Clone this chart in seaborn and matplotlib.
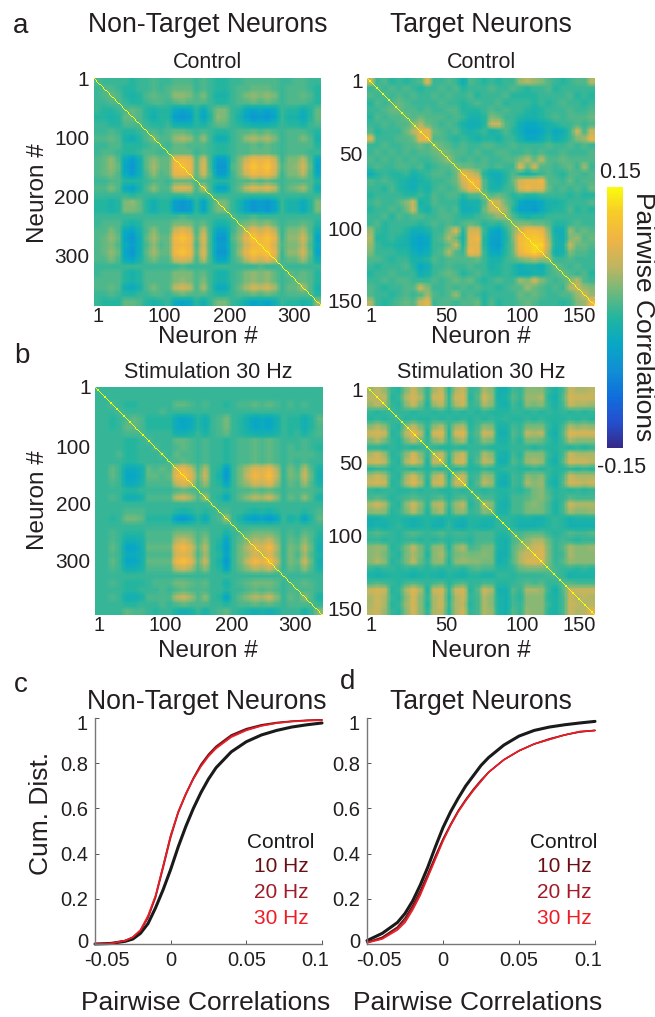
import numpy as np
import pandas as pd
import matplotlib
matplotlib.use("Agg")
import matplotlib.pyplot as plt
from matplotlib.colors import LinearSegmentedColormap
from matplotlib.transforms import ScaledTranslation
import seaborn as sns

# heatmap values, correlation x 100, estimated on a 32 x 32 grid (lower triangle, maps are symmetric)
nontarget_control = [
    [3], [2,3], [2,3,4], [2,2,3,3], [2,1,1,2,3], [1,1,0,1,4,4], [2,2,1,1,3,3,3], [2,2,3,2,1,1,2,3],
    [3,3,4,3,0,-1,1,3,5], [2,2,3,3,1,1,1,2,3,3], [2,3,3,2,1,1,2,3,3,2,3],
    [3,4,6,3,-2,-4,-1,4,6,4,4,11], [3,4,6,4,-3,-5,-1,4,7,4,4,12,13], [3,4,5,3,-2,-4,-1,3,6,3,4,11,12,11],
    [2,2,3,3,1,1,1,2,3,3,2,4,4,4,3], [3,3,5,3,-2,-3,0,3,6,3,3,9,10,9,3,8], [2,2,2,2,2,1,2,2,2,2,2,2,2,3,2,2,3],
    [1,1,0,1,5,6,4,1,-1,1,1,-4,-5,-4,1,-3,2,5], [1,1,0,1,5,5,4,1,-1,1,1,-4,-5,-4,1,-3,2,5,5],
    [2,2,2,2,2,2,2,2,2,2,2,2,3,2,2,2,2,2,2,3], [2,3,3,3,1,0,1,3,3,3,3,5,5,5,3,4,2,0,0,2,4],
    [3,3,5,3,-2,-3,0,3,6,3,3,9,11,9,3,8,2,-3,-3,2,5,8], [3,4,6,4,-3,-5,-1,4,7,4,4,12,14,12,4,10,2,-5,-5,3,6,11,14],
    [3,4,5,3,-2,-4,-1,3,6,3,4,11,12,11,3,9,2,-4,-4,2,5,9,12,13], [3,4,6,4,-3,-5,-1,4,7,4,4,12,14,12,4,10,2,-5,-5,2,6,11,14,13,14],
    [3,3,5,3,-2,-3,0,3,5,3,3,9,10,9,3,8,2,-3,-3,2,4,8,11,9,11,9], [2,2,2,2,2,2,2,2,2,2,2,2,3,2,2,2,2,2,2,2,2,2,2,3,2,2,3],
    [2,3,3,3,1,0,1,3,3,3,3,5,5,5,3,4,2,0,0,2,3,5,6,5,6,4,2,4], [3,3,3,3,1,0,1,3,3,3,3,5,6,5,3,5,2,0,0,2,3,5,6,5,6,4,2,3,4],
    [3,3,4,3,-1,-2,0,3,5,3,3,8,9,8,3,7,2,-2,-2,2,4,7,9,8,9,7,2,4,4,7],
    [2,2,3,2,1,1,2,2,3,3,2,3,4,3,3,3,2,1,1,2,3,3,4,3,4,3,2,3,3,3,3],
    [2,1,1,1,4,4,3,1,0,1,2,-2,-3,-2,1,-1,2,5,5,2,1,-1,-3,-2,-3,-1,2,1,1,0,1,6],
]
target_control = [
    [8], [2,3], [3,2,3], [1,3,2,3], [2,2,3,4,4], [1,3,2,3,3,4], [2,2,3,2,3,3,5], [3,1,2,2,2,4,7,10],
    [9,2,2,2,3,3,4,10,11], [2,2,3,2,2,3,3,4,3,5], [2,3,2,3,2,3,2,3,3,4,5], [3,2,3,2,3,2,3,2,2,3,4,6],
    [2,3,2,2,3,3,2,3,1,2,3,3,5], [-1,1,2,1,1,2,0,1,2,3,3,2,4,11], [3,2,3,2,1,0,-1,0,1,2,2,3,4,9,12],
    [2,2,1,3,1,0,-1,1,0,2,3,2,3,7,11,11], [1,2,2,2,2,1,1,2,1,3,2,3,3,1,3,3,5],
    [2,3,2,2,3,5,8,0,1,3,2,2,2,-1,0,0,3,9], [1,2,2,3,2,4,8,1,0,2,3,2,3,-1,-1,0,4,8,8],
    [2,2,3,1,3,2,3,3,2,2,3,3,2,1,1,2,3,4,6,6], [2,3,1,2,2,2,2,1,2,3,2,3,2,3,4,3,1,2,1,3,5],
    [6,2,1,2,2,1,-1,-1,0,2,2,5,9,1,9,9,2,-2,-3,1,5,9], [7,1,1,2,1,0,-2,-3,-2,2,3,7,4,0,10,11,1,-3,-3,0,5,12,13],
    [6,2,1,1,0,0,-2,-3,-2,2,2,4,8,1,10,10,1,-3,-4,1,4,12,14,15], [5,2,2,2,1,1,-1,-2,-1,2,3,7,3,2,11,10,2,-2,-2,1,4,11,13,15,13],
    [3,3,2,1,2,2,0,0,1,3,2,3,3,3,3,4,2,0,0,2,3,5,6,7,6,6], [2,1,2,2,2,3,1,-2,-1,2,2,3,2,2,3,2,2,0,1,2,1,-1,0,0,-1,2,4],
    [1,2,2,3,2,2,2,-1,0,2,3,4,3,1,2,3,2,1,1,2,1,-1,-1,0,0,2,3,4], [2,2,3,2,3,3,2,2,2,3,2,3,4,3,4,2,1,2,3,2,2,6,5,8,5,3,2,3,5],
    [3,2,1,2,2,3,3,8,5,2,2,3,2,3,2,3,2,2,1,2,3,3,6,4,3,2,3,2,7,8],
    [3,2,2,1,2,3,2,3,6,3,2,3,6,2,3,2,1,2,2,2,2,4,3,4,3,2,2,3,3,6,8],
    [7,2,1,2,3,4,3,8,10,2,3,3,2,3,3,4,1,3,1,2,2,3,4,3,2,2,2,1,2,5,6,11],
]
nontarget_stim = [
    [2], [2,2], [2,2,3], [2,2,2,3], [2,2,1,2,3], [2,2,1,2,4,4], [2,2,2,2,3,3,3], [2,2,2,2,1,1,2,3],
    [2,2,2,2,1,1,2,2,3], [2,2,2,3,1,1,2,2,2,3], [2,2,2,2,1,1,2,2,2,2,3],
    [2,2,4,2,-2,-2,-1,4,3,4,3,11], [2,2,4,2,-3,-3,-1,4,4,3,4,12,14], [2,2,3,2,-2,-2,0,3,3,3,3,9,11,9],
    [2,2,2,2,1,1,2,2,2,2,2,3,4,3,3], [2,2,3,2,-1,-1,0,3,3,3,3,8,9,7,3,7], [2,2,2,2,2,2,2,2,2,2,2,2,2,2,2,2,3],
    [2,2,2,2,3,3,3,2,2,2,2,1,0,1,2,1,2,3], [2,2,1,2,5,5,4,1,1,1,1,-4,-5,-3,1,-2,2,3,7],
    [2,2,2,2,2,2,2,2,2,2,2,2,2,2,2,2,2,2,2,3], [2,2,3,2,1,1,1,3,3,3,3,5,5,5,3,4,2,2,0,2,3],
    [2,2,3,2,-1,-1,0,3,3,3,3,8,9,7,3,6,2,1,-3,2,4,6], [2,2,4,2,-3,-3,-1,4,4,4,4,11,13,10,4,8,2,0,-4,2,5,8,11],
    [2,2,3,2,-2,-2,-1,3,3,3,3,10,11,9,3,7,2,1,-3,2,5,7,10,9], [2,2,4,2,-3,-3,-1,4,4,4,4,12,14,11,4,9,2,0,-5,2,5,9,13,11,14],
    [2,2,3,2,-1,-1,0,3,3,3,3,8,9,7,3,6,2,1,-3,2,4,6,8,7,9,6], [2,2,2,2,2,2,2,2,2,2,2,2,2,2,2,2,2,2,2,2,2,2,2,2,2,2,3],
    [2,2,3,2,1,1,1,2,3,3,3,5,5,4,3,4,2,2,0,2,3,4,5,5,5,4,2,3], [2,2,2,2,1,1,2,2,2,3,2,3,4,3,3,3,2,2,1,2,2,3,4,3,4,3,2,3,3],
    [2,2,3,2,-1,-1,0,3,3,3,3,8,9,7,3,6,2,1,-3,2,4,6,8,7,9,6,2,4,3,6],
    [2,2,2,2,1,1,2,2,2,3,2,3,4,3,3,3,2,2,1,2,3,3,4,3,4,3,2,3,3,3,3],
    [2,2,2,2,4,3,3,2,1,2,2,0,-1,0,2,0,2,3,4,2,1,0,-1,0,-1,0,2,2,2,0,2,6],
]
target_stim = [
    [8], [10,10], [8,10,8], [2,1,2,3], [1,2,1,2,3], [7,9,7,2,1,7], [11,12,11,1,2,10,14], [7,9,6,2,1,6,10,6],
    [2,2,1,2,1,2,1,2,3], [9,11,8,1,2,7,12,7,2,9], [11,12,10,2,1,9,13,9,1,11,11], [1,2,2,1,2,2,1,2,1,2,1,3],
    [9,11,9,2,1,8,12,7,2,9,11,1,9], [11,12,11,1,2,9,13,9,1,11,12,2,11,12], [2,1,2,2,1,1,2,1,2,2,1,1,2,1,3],
    [3,4,3,1,2,3,4,3,2,3,4,1,3,4,2,4], [9,11,9,2,1,7,11,7,2,9,10,2,8,10,1,3,9], [7,8,7,1,2,6,10,6,1,7,9,1,7,8,2,3,7,6],
    [-1,-1,0,1,1,0,-1,0,1,0,-1,1,0,-1,1,1,0,0,2], [-1,0,-1,1,2,0,-1,0,1,-1,-1,2,-1,-2,1,0,-1,0,2,2],
    [3,4,3,2,1,3,4,3,2,3,4,2,3,3,2,3,3,3,1,1,4], [2,2,1,2,1,2,2,1,2,1,2,1,2,2,1,3,3,3,0,-1,3,5],
    [7,8,7,1,2,6,10,6,2,7,8,1,7,9,3,4,6,6,0,-1,4,7,9], [7,8,6,2,1,6,9,6,1,7,9,2,6,7,6,6,7,6,-1,-1,4,9,11,12],
    [7,9,7,1,2,6,10,5,2,7,8,1,7,8,7,7,6,6,-1,0,4,9,12,13,12], [2,1,2,2,1,2,1,2,1,2,1,2,2,1,3,4,3,3,1,1,2,5,6,6,6,5],
    [0,-1,0,1,1,0,-1,0,1,0,-1,1,0,-1,1,1,0,0,2,2,1,2,2,2,2,3,3], [3,4,3,2,1,3,4,3,2,3,4,1,3,4,2,2,3,3,1,1,2,3,4,3,4,2,2,4],
    [11,12,11,1,2,9,13,9,1,11,12,2,11,12,1,4,11,9,-1,-1,4,2,9,9,8,2,-1,4,11],
    [9,11,9,2,1,7,12,7,2,9,11,1,9,11,2,3,9,7,0,-1,3,1,7,7,7,1,0,3,11,9],
    [9,11,9,1,2,8,12,7,1,9,11,2,9,10,1,3,9,7,0,-1,3,2,7,7,7,2,0,3,11,10,9],
    [10,11,8,2,1,7,12,7,2,9,10,1,9,11,2,3,9,8,0,-1,4,2,8,7,7,1,0,3,11,9,10,13],
]

# cumulative distributions
nt_x = [-0.05,-0.04,-0.03,-0.025,-0.02,-0.015,-0.01,-0.005,0,0.005,0.01,0.015,0.02,0.025,0.03,0.04,0.05,0.06,0.07,0.08,0.09,0.1]
nt_control = [0,0.002,0.012,0.022,0.047,0.09,0.16,0.24,0.33,0.43,0.52,0.6,0.67,0.73,0.78,0.85,0.895,0.925,0.945,0.96,0.97,0.978]
nt_10 = [0,0.002,0.015,0.03,0.06,0.12,0.21,0.345,0.48,0.585,0.665,0.735,0.795,0.84,0.875,0.925,0.953,0.97,0.98,0.986,0.99,0.992]
nt_20 = [0,0.002,0.015,0.03,0.058,0.115,0.205,0.335,0.47,0.58,0.66,0.73,0.79,0.835,0.87,0.92,0.948,0.966,0.978,0.985,0.989,0.991]
nt_30 = [0,0.002,0.015,0.03,0.062,0.125,0.215,0.345,0.48,0.585,0.665,0.73,0.785,0.83,0.865,0.915,0.945,0.965,0.977,0.984,0.988,0.99]

t_x = [-0.05,-0.04,-0.03,-0.025,-0.02,-0.015,-0.01,-0.005,0,0.005,0.01,0.015,0.02,0.025,0.03,0.04,0.05,0.06,0.07,0.08,0.09,0.1]
t_control = [0.015,0.047,0.095,0.135,0.19,0.26,0.34,0.43,0.515,0.585,0.645,0.7,0.745,0.79,0.825,0.88,0.92,0.945,0.96,0.97,0.978,0.985]
t_10 = [0.007,0.03,0.075,0.115,0.17,0.235,0.31,0.39,0.465,0.53,0.59,0.64,0.685,0.725,0.76,0.815,0.855,0.885,0.908,0.925,0.938,0.945]
t_20 = [0.006,0.025,0.07,0.105,0.16,0.225,0.3,0.38,0.46,0.525,0.585,0.635,0.68,0.72,0.76,0.815,0.855,0.885,0.905,0.925,0.94,0.945]
t_30 = [0.005,0.022,0.062,0.095,0.15,0.215,0.295,0.375,0.455,0.525,0.585,0.635,0.68,0.72,0.76,0.815,0.855,0.885,0.905,0.925,0.94,0.945]

curve_ticks_x = [-0.05, 0, 0.05, 0.1]
curve_ticks_y = [0, 0.2, 0.4, 0.6, 0.8, 1]
names = ["Control", "10 Hz", "20 Hz", "30 Hz"]
colors = ["#1a1a1a", "#6a0f14", "#a01c28", "#ee1c25"]

W, H = 655, 1017
sns.set_theme(style="white")
plt.rcParams["font.family"] = ["Liberation Sans", "DejaVu Sans"]
plt.rcParams["text.color"] = "#231f20"
ink = "#231f20"

parula = LinearSegmentedColormap.from_list("parula", [
    "#352a87", "#2450d0", "#0f70dc", "#1090d4", "#08a8c4", "#22b5a0",
    "#6fb97c", "#c0b560", "#efb445", "#f7c92a", "#f9fb0e"])

fig = plt.figure(figsize=(W / 100, H / 100), dpi=100)


def px_axes(x0, y0, x1, y1):
    return fig.add_axes([x0 / W, 1 - y1 / H, (x1 - x0) / W, (y1 - y0) / H])


def label(x, y, s, size, **kw):
    fig.text(x / W, 1 - y / H, s, fontsize=size, ha=kw.pop("ha", "center"), va="center", **kw)


def nudge(text, dx, dy):
    # move a tick label by some pixels
    text.set_transform(text.get_transform() + ScaledTranslation(dx / 100, dy / 100, fig.dpi_scale_trans))


def to_matrix(rows, gain):
    n = len(rows)
    m = np.zeros((n, n))
    for i, row in enumerate(rows):
        m[i, :i + 1] = row
        m[:i + 1, i] = row
    m = np.kron((m - 1) * gain / 100, np.ones((6, 6)))
    # soften the grid edges, the original is a blurred print
    p = np.pad(m, 2, mode="edge")
    kernel = np.ones(5) / 5
    p = np.apply_along_axis(lambda r: np.convolve(r, kernel, mode="same"), 0, p)
    p = np.apply_along_axis(lambda r: np.convolve(r, kernel, mode="same"), 1, p)
    m = p[2:-2, 2:-2]
    np.fill_diagonal(m, 0.15)
    return m


def draw_map(rows, box, xpos, ypos, xlabs, ylabs, title, gain=1.0):
    # xpos / ypos are fractions along the axis where the labels sit
    ax = px_axes(*box)
    m = to_matrix(rows, gain)
    sns.heatmap(m, ax=ax, cmap=parula, vmin=-0.15, vmax=0.15, cbar=False, square=False,
                xticklabels=False, yticklabels=False, rasterized=True)
    ax.set_xticks(np.array(xpos) * m.shape[1])
    ax.set_yticks(np.array(ypos) * m.shape[0])
    ax.set_xticklabels(xlabs, rotation=0, fontsize=14.5, color=ink)
    ax.set_yticklabels(ylabs, rotation=0, fontsize=15, color=ink)
    ax.tick_params(axis="x", length=0, pad=1)
    ax.tick_params(axis="y", length=0, pad=3)
    label((box[0] + box[2]) / 2, box[1] - 15, title, 15.5, color=ink)
    return ax


draw_map(nontarget_control, (93.5, 78, 321, 305.5), [0.02, 0.31, 0.60, 0.88], [0.0, 0.26, 0.52, 0.78],
         ["1", "100", "200", "300"], ["1", "100", "200", "300"], "Control", gain=0.85)
draw_map(target_control, (367, 78, 595, 305.5), [0.02, 0.35, 0.68, 0.93], [0.01, 0.33, 0.66, 0.98],
         ["1", "50", "100", "150"], ["1", "50", "100", "150"], "Control", gain=0.9)
draw_map(nontarget_stim, (95, 387, 322.5, 615), [0.02, 0.31, 0.60, 0.88], [0.0, 0.26, 0.51, 0.76],
         ["1", "100", "200", "300"], ["1", "100", "200", "300"], "Stimulation 30 Hz", gain=0.8)
draw_map(target_stim, (367, 387, 595, 615), [0.02, 0.35, 0.68, 0.93], [0.01, 0.33, 0.65, 0.97],
         ["1", "50", "100", "150"], ["1", "50", "100", "150"], "Stimulation 30 Hz", gain=0.65)

# colour bar
cax = px_axes(606.7, 187, 622.7, 448)
grad = np.linspace(0.15, -0.15, 128).reshape(-1, 1)
sns.heatmap(grad, ax=cax, cmap=parula, vmin=-0.15, vmax=0.15, cbar=False, xticklabels=False, yticklabels=False)
label(620, 172, "0.15", 15.5, color=ink)
label(622, 467, "-0.15", 15.5, color=ink)
label(643, 317, "Pairwise Correlations", 19, rotation=270, color=ink)


def draw_curves(box, x, series, leg_x, title, title_x, ylab):
    ax = px_axes(*box)
    for s, c, lw in zip(series, colors, [2.2, 1.1, 1.1, 1.1]):
        df = pd.DataFrame({"x": x, "y": s})
        sns.lineplot(data=df, x="x", y="y", ax=ax, color=c, lw=lw, errorbar=None, clip_on=False)
    ax.set_xlim(-0.05, 0.1)
    ax.set_ylim(0, 1)
    ax.set_xticks(curve_ticks_x)
    ax.set_xticklabels(["-0.05", "0", "0.05", "0.1"], fontsize=14.5, color=ink)
    ax.set_yticks(curve_ticks_y)
    ax.set_yticklabels(["0", "0.2", "0.4", "0.6", "0.8", "1"], fontsize=14.5, color=ink)
    ax.set_xlabel("")
    ax.set_ylabel("")
    ax.tick_params(direction="in", length=3, width=0.7, color="#555555", bottom=True, left=True, pad=5)
    sns.despine(ax=ax)
    for side in ["left", "bottom"]:
        ax.spines[side].set_color("#777777")
        ax.spines[side].set_linewidth(1.0)
    xl = ax.get_xticklabels()
    nudge(xl[0], 12, 0)
    nudge(xl[-1], -7, 0)
    yl = ax.get_yticklabels()
    nudge(yl[0], 0, 4)
    nudge(yl[-1], 0, -5)
    for name, c, y in zip(names, colors, [842, 867, 893, 918]):
        label(leg_x, y, name, 15, color=c)
    label(title_x, 702, title, 19.2, color=ink)
    label((box[0] + box[2]) / 2 - 3, 1003, "Pairwise Correlations", 19, color=ink)
    if ylab:
        label(41, 813, ylab, 19, rotation=90, color=ink)


draw_curves((95, 718, 322, 944), nt_x, [nt_control, nt_10, nt_20, nt_30], 281, "Non-Target Neurons", 207, "Cum. Dist.")
draw_curves((367, 718, 595, 944), t_x, [t_control, t_10, t_20, t_30], 564, "Target Neurons", 481, None)

# headings and shared labels
label(208, 25, "Non-Target Neurons", 19.2, color=ink)
label(481, 25, "Target Neurons", 19.2, color=ink)
label(208, 337, "Neuron #", 17.5, color=ink)
label(481, 337, "Neuron #", 17.5, color=ink)
label(208, 651, "Neuron #", 17.5, color=ink)
label(481, 651, "Neuron #", 17.5, color=ink)
label(38, 193, "Neuron #", 17.5, rotation=90, color=ink)
label(38, 500, "Neuron #", 17.5, rotation=90, color=ink)
for s, x, y in [("a", 21, 26), ("b", 22, 356), ("c", 21, 685), ("d", 348, 682)]:
    label(x, y, s, 20, color=ink)

plt.savefig("out.png", dpi=100)
